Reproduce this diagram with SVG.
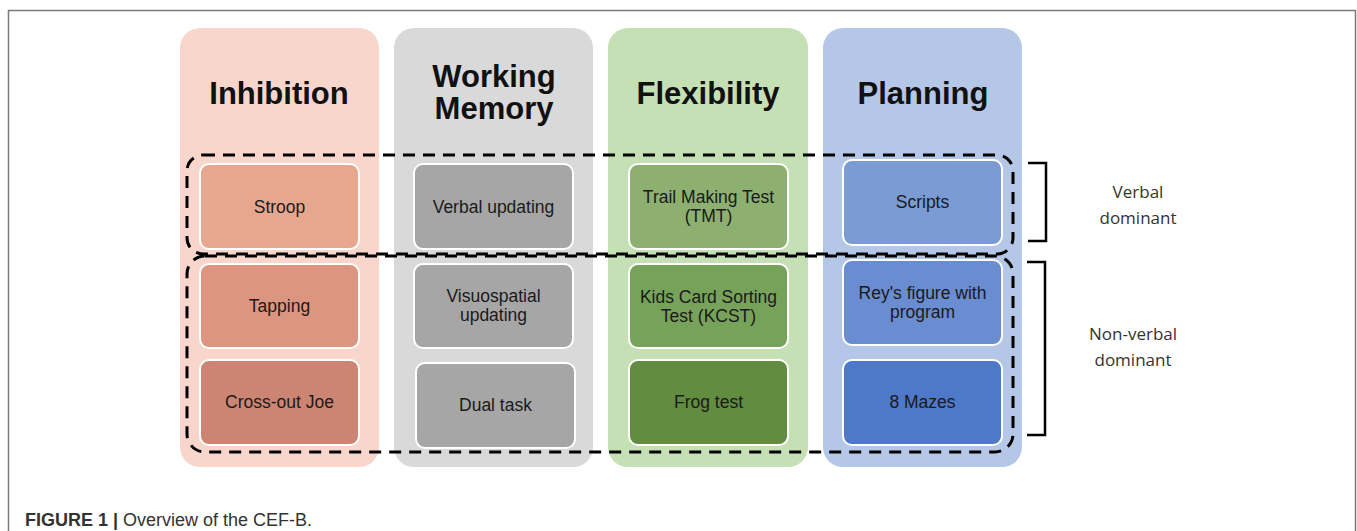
<svg xmlns="http://www.w3.org/2000/svg" width="1357" height="531" viewBox="0 0 1357 531">
<style>
.col{stroke:none}
.title{font-family:"Liberation Sans",Arial,sans-serif;font-weight:bold;font-size:31px;fill:#111;text-anchor:middle}
.box{stroke:#fff;stroke-width:2}
.lbl{font-family:"Liberation Sans",Arial,sans-serif;font-size:17.5px;fill:#1a1a1a;text-anchor:middle}
.dash{fill:none;stroke:#000;stroke-width:3;stroke-dasharray:12 8}
.br{fill:none;stroke:#000;stroke-width:2.5}
.side{font-family:"Open Sans","Liberation Sans",sans-serif;font-size:17px;fill:#333;text-anchor:middle}
.cap{font-family:"Liberation Sans",Arial,sans-serif;font-size:18px;fill:#333}
</style>
<rect width="1357" height="531" fill="#fff"/>
<path d="M8.5,531 V10.5 H1355.5 V531" fill="none" stroke="#7a7a7a" stroke-width="1.5"/>

<g id="col-inhibition">
<rect class="col" x="180" y="28" width="199" height="439" rx="20" fill="#f8d6cc"/>
<text class="title" x="279" y="104">Inhibition</text>
</g>
<g id="col-working-memory">
<rect class="col" x="394" y="28" width="199" height="439" rx="20" fill="#d9d9d9"/>
<text class="title" x="494" y="87">Working</text>
<text class="title" x="494" y="119">Memory</text>
</g>
<g id="col-flexibility">
<rect class="col" x="608" y="28" width="200" height="439" rx="20" fill="#c5e0b4"/>
<text class="title" x="708" y="104">Flexibility</text>
</g>
<g id="col-planning">
<rect class="col" x="823" y="28" width="199" height="439" rx="20" fill="#b4c7e7"/>
<text class="title" x="923" y="104">Planning</text>
</g>

<g id="stroop"><rect class="box" x="200" y="164" width="159" height="85" rx="9" fill="#e7a68e"/><text class="lbl" x="279.5" y="213">Stroop</text></g>
<g id="tapping"><rect class="box" x="200" y="264" width="159" height="84" rx="9" fill="#dc9580"/><text class="lbl" x="279.5" y="312">Tapping</text></g>
<g id="crossout"><rect class="box" x="200" y="360" width="159" height="85" rx="9" fill="#cd8573"/><text class="lbl" x="279.5" y="408">Cross-out Joe</text></g>

<g id="verbal-updating"><rect class="box" x="414" y="164" width="159" height="85" rx="9" fill="#a6a6a6"/><text class="lbl" x="493.5" y="213">Verbal updating</text></g>
<g id="visuospatial"><rect class="box" x="414" y="264" width="159" height="84" rx="9" fill="#a6a6a6"/><text class="lbl" x="493.5" y="302">Visuospatial</text><text class="lbl" x="493.5" y="321">updating</text></g>
<g id="dual-task"><rect class="box" x="416" y="363" width="159" height="85" rx="9" fill="#a6a6a6"/><text class="lbl" x="495.5" y="411">Dual task</text></g>

<g id="tmt"><rect class="box" x="629" y="164" width="159" height="85" rx="9" fill="#8db070"/><text class="lbl" x="708.5" y="203">Trail Making Test</text><text class="lbl" x="708.5" y="222">(TMT)</text></g>
<g id="kcst"><rect class="box" x="629" y="264" width="159" height="84" rx="9" fill="#77a25a"/><text class="lbl" x="708.5" y="303">Kids Card Sorting</text><text class="lbl" x="708.5" y="322">Test (KCST)</text></g>
<g id="frog"><rect class="box" x="629" y="360" width="159" height="85" rx="9" fill="#628c40"/><text class="lbl" x="708.5" y="408">Frog test</text></g>

<g id="scripts"><rect class="box" x="843" y="160" width="159" height="85" rx="9" fill="#7b9bd5"/><text class="lbl" x="922.5" y="208">Scripts</text></g>
<g id="rey"><rect class="box" x="843" y="260" width="159" height="85" rx="9" fill="#6a8cd0"/><text class="lbl" x="922.5" y="299">Rey's figure with</text><text class="lbl" x="922.5" y="318">program</text></g>
<g id="mazes"><rect class="box" x="843" y="360" width="159" height="85" rx="9" fill="#4e78c8"/><text class="lbl" x="922.5" y="408">8  Mazes</text></g>

<g id="connectors">
<rect class="dash" x="187" y="155" width="826" height="99" rx="16"/>
<rect class="dash" x="187" y="256" width="826" height="196" rx="18"/>
<path class="br" d="M1028,163 H1046 V241 H1028"/>
<path class="br" d="M1027,262 H1045 V435 H1027"/>
</g>

<g id="labels">
<text class="side" x="1138" y="198">Verbal</text>
<text class="side" x="1138" y="224">dominant</text>
<text class="side" x="1133" y="340">Non-verbal</text>
<text class="side" x="1133" y="366">dominant</text>
</g>

<text class="cap" x="25" y="526"><tspan font-weight="bold">FIGURE 1 |</tspan> Overview of the CEF-B.</text>
</svg>
